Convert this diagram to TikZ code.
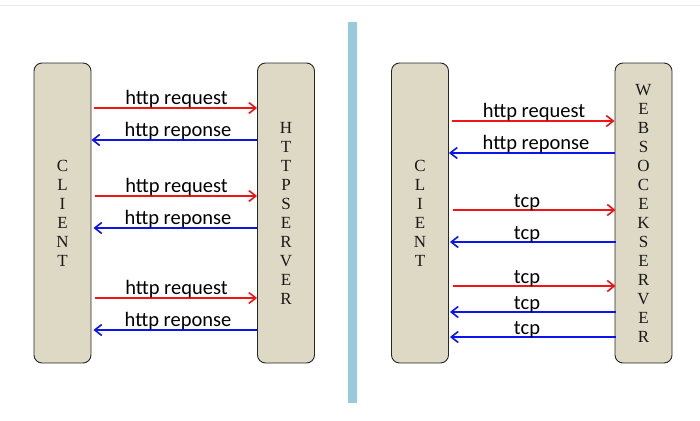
\documentclass[tikz,border=0pt]{standalone}
\usepackage{fontspec}
\setmainfont{Liberation Serif}
\newfontfamily\lblfont{Carlito}
\usetikzlibrary{arrows.meta}
\definecolor{boxfill}{RGB}{221,217,196}
\definecolor{barblue}{RGB}{150,202,220}
\definecolor{reqred}{RGB}{240,20,20}
\definecolor{resblue}{RGB}{10,20,235}
\tikzset{
  entity/.style={draw=black!85, line width=0.9pt, fill=boxfill, rounded corners=8pt,
    minimum width=57pt, minimum height=300pt, inner sep=0pt},
  vletters/.style={font=\fontsize{17}{19}\selectfont, align=center, text=black!90},
  req/.style={draw=reqred, line width=2pt, -{Straight Barb[length=7pt,width=11pt,line width=1.6pt]}},
  res/.style={draw=resblue, line width=2pt, -{Straight Barb[length=7pt,width=11pt,line width=1.6pt]}},
  lbl/.style={font=\lblfont\fontsize{20.5}{21}\selectfont, anchor=base, inner sep=0pt}
}
\begin{document}
\begin{tikzpicture}[x=1pt,y=-1pt]
\useasboundingbox (0,0) rectangle (700,420);
\fill[white] (0,0) rectangle (700,420);
\draw[black!8, line width=1pt] (0,6) -- (700,6);
% divider
\node[fill=barblue, minimum width=9pt, minimum height=381pt, inner sep=0pt, anchor=north west] (bar) at (348,22) {};
% left panel boxes
\node[entity] (cl1) at (62.5,213) {};
\node[entity] (hs) at (286,213) {};
\node[vletters] (cl1t) at (cl1.center) {C\\L\\I\\E\\N\\T};
\node[vletters] (hst) at (hs.center) {H\\T\\T\\P\\S\\E\\R\\V\\E\\R};
% right panel boxes
\node[entity] (cl2) at (420,213) {};
\node[entity] (ws) at (643.5,213) {};
\node[vletters] (cl2t) at (cl2.center) {C\\L\\I\\E\\N\\T};
\node[vletters] (wst) at (ws.center) {W\\E\\B\\S\\O\\C\\E\\K\\S\\E\\R\\V\\E\\R};
% row coordinates
\coordinate (a1) at (0,108);
\coordinate (a2) at (0,140);
\coordinate (a3) at (0,196);
\coordinate (a4) at (0,228);
\coordinate (a5) at (0,298);
\coordinate (a6) at (0,330);
\coordinate (b1) at (0,121);
\coordinate (b2) at (0,153);
\coordinate (b3) at (0,210);
\coordinate (b4) at (0,242);
\coordinate (b5) at (0,286);
\coordinate (b6) at (0,312);
\coordinate (b7) at (0,337);
% left arrows
\draw[req] ([xshift=3pt]cl1.east |- a1) -- (hs.west |- a1);
\draw[res] (hs.west |- a2) -- (cl1.east |- a2);
\draw[req] ([xshift=4pt]cl1.east |- a3) -- (hs.west |- a3);
\draw[res] (hs.west |- a4) -- ([xshift=2pt]cl1.east |- a4);
\draw[req] ([xshift=4pt]cl1.east |- a5) -- (hs.west |- a5);
\draw[res] (hs.west |- a6) -- ([xshift=2pt]cl1.east |- a6);
\node[lbl] (l1) at (176.5,104.5) {http request};
\node[lbl] (l2) at (178,136.5) {http reponse};
\node[lbl] (l3) at (176.5,192.5) {http request};
\node[lbl] (l4) at (178,224.5) {http reponse};
\node[lbl] (l5) at (176.5,294.5) {http request};
\node[lbl] (l6) at (178,326.5) {http reponse};
% right arrows
\draw[req] ([xshift=3pt]cl2.east |- b1) -- (ws.west |- b1);
\draw[res] (ws.west |- b2) -- (cl2.east |- b2);
\draw[req] ([xshift=4pt]cl2.east |- b3) -- ([xshift=1pt]ws.west |- b3);
\draw[res] ([xshift=1pt]ws.west |- b4) -- ([xshift=1pt]cl2.east |- b4);
\draw[req] ([xshift=4pt]cl2.east |- b5) -- ([xshift=1pt]ws.west |- b5);
\draw[res] ([xshift=1pt]ws.west |- b6) -- ([xshift=1pt]cl2.east |- b6);
\draw[res] ([xshift=1pt]ws.west |- b7) -- ([xshift=1pt]cl2.east |- b7);
\node[lbl] (m1) at (534,117.5) {http request};
\node[lbl] (m2) at (536,149.5) {http reponse};
\node[lbl] (m3) at (527,207.5) {tcp};
\node[lbl] (m4) at (527,239.5) {tcp};
\node[lbl] (m5) at (527,283.5) {tcp};
\node[lbl] (m6) at (527,309.5) {tcp};
\node[lbl] (m7) at (527,334.5) {tcp};
\end{tikzpicture}
\end{document}
